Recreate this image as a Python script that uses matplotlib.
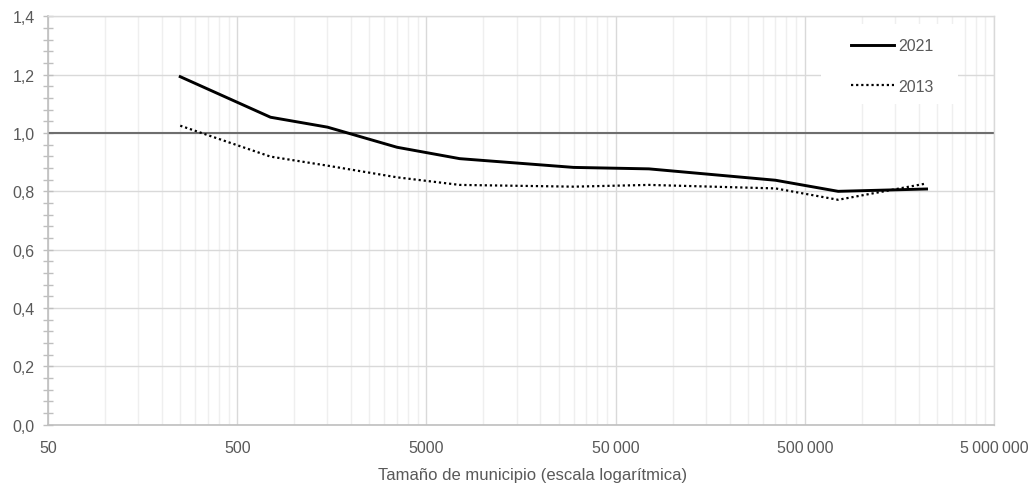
import matplotlib
matplotlib.use("Agg")
import matplotlib.pyplot as plt
from matplotlib.patches import Rectangle
from matplotlib.ticker import FixedLocator, FuncFormatter, MultipleLocator, NullFormatter

plt.rcParams['font.family'] = ['Liberation Sans', 'DejaVu Sans']

# data (size of municipality, index)
size_2021 = [250, 750, 1500, 3500, 7500, 30000, 75000, 350000, 750000, 2200000]
val_2021 = [1.193, 1.054, 1.020, 0.951, 0.912, 0.882, 0.877, 0.838, 0.800, 0.808]
size_2013 = [250, 750, 1500, 3500, 7500, 30000, 75000, 350000, 750000, 2200000]
val_2013 = [1.025, 0.919, 0.888, 0.848, 0.822, 0.816, 0.822, 0.810, 0.771, 0.827]

x_ticks = [50, 500, 5000, 50000, 500000, 5000000]
x_ticklabels = ["50", "500", "5000", "50\u2009000", "500\u2009000", "5\u2009000\u2009000"]

grey_txt = "#595959"
fs = 11.5

fig = plt.figure(figsize=(10.33, 4.85), dpi=100)
ax = fig.add_axes([48 / 1033, 1 - 425.7 / 485, 946 / 1033, 408.4 / 485])

ax.set_xscale("log")
ax.set_xlim(50, 5000000)
ax.set_ylim(0, 1.4)

# grid: majors at 50*10^n, minors at k*50*10^n
minor_x = [k * b for b in x_ticks[:-1] for k in range(2, 10)]
ax.xaxis.set_major_locator(FixedLocator(x_ticks))
ax.xaxis.set_minor_locator(FixedLocator(minor_x))
ax.xaxis.set_major_formatter(FuncFormatter(
    lambda v, p: x_ticklabels[x_ticks.index(int(round(v)))] if int(round(v)) in x_ticks else ""))
ax.xaxis.set_minor_formatter(NullFormatter())
ax.yaxis.set_major_locator(MultipleLocator(0.2))
ax.yaxis.set_minor_locator(MultipleLocator(0.04))
ax.yaxis.set_major_formatter(FuncFormatter(lambda v, p: f"{v:.1f}".replace(".", ",")))

ax.grid(True, which="major", axis="both", color="#d9d9d9", linewidth=1.0)
ax.grid(True, which="minor", axis="x", color="#efefef", linewidth=1.0)
ax.set_axisbelow(True)

ax.tick_params(axis="x", which="both", length=0, pad=11, labelsize=fs, labelcolor=grey_txt)
ax.tick_params(axis="y", which="both", direction="inout", length=7, width=1, color="#bfbfbf",
               pad=6, labelsize=fs, labelcolor=grey_txt)

for side in ["left", "bottom"]:
    ax.spines[side].set_color("#bfbfbf")
    ax.spines[side].set_linewidth(1.2)
for side in ["top", "right"]:
    ax.spines[side].set_color("#d9d9d9")
    ax.spines[side].set_linewidth(1.0)

ax.axhline(1.0, color="#6e6e6e", linewidth=1.5, zorder=2)

ax.plot(size_2021, val_2021, color="black", linewidth=2.1, label="2021", zorder=3)
ax.plot(size_2013, val_2013, color="black", linewidth=1.6, linestyle=(0, (1, 1.3)), label="2013", zorder=3)

# white legend background covering the grid
ax.add_patch(Rectangle((0.817, 0.785), 0.145, 0.196, transform=ax.transAxes,
                       facecolor="white", edgecolor="none", zorder=1.5))

leg = ax.legend(loc="upper left", bbox_to_anchor=(0.849, 0.946), frameon=False, fontsize=fs,
                handlelength=2.7, handletextpad=0.25, labelspacing=1.6, borderpad=0,
                borderaxespad=0)
for t in leg.get_texts():
    t.set_color(grey_txt)

ax.set_xlabel("Tamaño de municipio (escala logarítmica)", fontsize=12, color=grey_txt)
ax.xaxis.set_label_coords((533 - 48) / 946, -0.103)

fig.savefig("out.png", dpi=100)
